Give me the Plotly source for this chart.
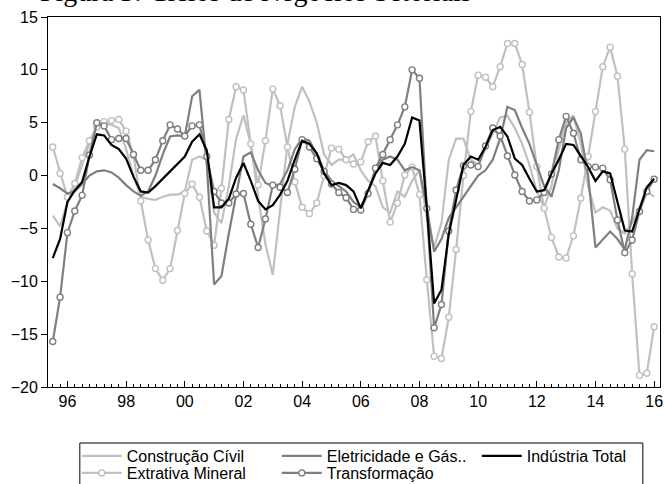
import plotly.graph_objects as go
import pandas as pd

# Quarterly observations 1995Q3 .. 2016Q1
quarters = pd.period_range("1995Q3", "2016Q1", freq="Q")
x = [p.year + (p.quarter - 1) / 4 for p in quarters]

construcao = [
    -3.8, -4.8,
    -2.5, -1.0, 1.0, 3.0,
    4.5, 5.0, 4.8, 4.5,
    2.5, 0.0, -2.0, -2.2,
    -2.3, -2.0, -1.8, -1.8,
    -1.5, 1.5, 1.8, 1.5,
    -3.5, -4.5, -1.0, 3.5,
    5.7, 3.0, -2.0, -6.5,
    -9.4, -3.5, 3.0, 6.5,
    8.4, 7.0, 5.0, 2.0,
    1.0, 1.5, 1.5, 2.0,
    0.5, -0.5, -1.0, -3.0,
    -3.5, -1.5, -2.0, -0.5,
    0.5, -4.0, -6.8, -4.5,
    1.5, 3.5, 3.5, 1.5,
    1.0, 2.5, 4.0, 5.5,
    5.65, 4.5, 3.0, 1.0,
    -1.5, -3.0, -1.0, 2.5,
    5.0, 5.7, 3.0, -1.0,
    -3.5, -3.0, -3.3, -5.0,
    -5.5, -4.5, -3.0, -1.5,
    -2.0,
]

extrativa = [
    2.7, 0.2,
    -2.05, -0.75, 1.7, 3.3,
    4.6, 5.1, 5.2, 5.3,
    4.2, 1.9, -2.4, -6.1,
    -8.8, -9.9, -8.8, -5.2,
    -1.7, -0.8, -2.05, -5.25,
    -6.6, -1.2, 5.3, 8.4,
    8.1, 3.0, -0.9, 3.3,
    8.2, 6.6, 2.7, -0.6,
    -3.0, -3.6, -2.6, 0.0,
    2.6, 2.5, 1.5, 1.1,
    1.3, 3.2, 3.75, -0.5,
    -4.4, -2.6, 0.06, 0.8,
    -1.8, -9.85, -17.1, -17.3,
    -13.4, -7.0, 0.0, 6.05,
    9.5, 9.3, 8.4, 10.3,
    12.5, 12.5, 10.5, 6.0,
    0.85, -3.1, -5.85, -7.7,
    -7.8, -5.7, -2.15, 1.8,
    6.05, 10.3, 12.15, 9.4,
    2.5, -9.3, -18.9, -18.7,
    -14.3,
]

eletricidade = [
    -0.8, -1.2,
    -1.7, -1.5, -0.8, 0.0,
    0.4, 0.5, 0.3, -0.2,
    -0.9, -1.5, -1.9, -1.5,
    0.0, 2.0, 3.7, 3.8,
    3.7, 7.5, 8.1, 1.0,
    -10.3, -9.5, -5.5, -2.0,
    1.8, 2.2, 0.5, -0.7,
    -1.0, -0.8, 0.5, 2.5,
    3.5, 3.3, 2.0, 0.5,
    -0.5, -1.0, -1.5, -2.5,
    -3.0, -1.5, 0.5, 1.5,
    1.8, 1.5, 0.5, 0.8,
    0.5, -3.0, -7.2, -6.0,
    -4.0, -3.0, -2.0, -1.0,
    0.0, 0.5, 1.5, 3.5,
    6.5, 6.2, 4.5, 3.0,
    1.0, -1.0, -2.0, 0.5,
    4.5, 5.5, 4.0, 0.0,
    -6.8, -6.0, -5.3, -6.0,
    -7.0, -4.0, 1.5, 2.4,
    2.3,
]

transformacao = [
    -15.7, -11.5,
    -5.4, -3.35, -1.87, 1.95,
    5.0, 4.7, 3.4, 3.5,
    3.5, 2.0, 0.5, 0.5,
    1.5, 3.3, 4.8, 4.4,
    3.75, 4.7, 4.8, 1.8,
    -1.5, -2.6, -2.6, -1.75,
    -1.7, -4.6, -6.8, -4.1,
    -0.9, -1.1, -1.6, 0.6,
    3.4, 2.7, 1.6, 0.4,
    -0.8, -1.6, -2.1, -3.2,
    -3.25, -1.7, 0.7, 2.0,
    3.4, 4.8, 6.5, 10.0,
    9.2, -3.1, -14.4, -12.2,
    -5.25, -1.36, 0.94, 1.0,
    0.85, 2.8, 4.5, 3.75,
    1.85, 0.06, -1.5, -2.4,
    -2.3, -1.6, 0.15, 3.4,
    5.6, 4.0, 1.5, 0.85,
    0.8, 0.7, -0.4, -4.2,
    -7.3, -6.1, -3.4, -1.5,
    -0.35,
]

industria = [
    -7.8, -6.0,
    -2.5, -1.4, -0.6, 1.8,
    3.9, 3.8, 2.9, 2.5,
    1.6, -0.1, -1.5, -1.6,
    -1.0, -0.3, 0.5, 1.2,
    1.8, 3.2, 3.9, 2.4,
    -3.0, -3.0, -2.2, -0.2,
    1.2, -0.5, -2.4, -3.2,
    -2.8, -1.8, -0.5, 1.5,
    3.3, 3.0, 2.1, 0.2,
    -0.9, -0.7, -0.9, -1.5,
    -3.1, -1.4, 0.2, 1.2,
    1.0, 1.8, 3.0, 5.5,
    5.2, -3.0, -12.1, -10.8,
    -5.5, -2.3, 1.0, 1.8,
    1.5, 2.7, 4.3, 4.6,
    3.7, 1.6, 1.0, -0.3,
    -1.5, -1.4, 0.2, 1.5,
    3.0, 2.9, 1.8, 0.8,
    -0.5, 0.4, 0.2, -2.5,
    -5.2, -5.3, -3.3, -1.1,
    -0.3,
]

tick_years = [1996, 1998, 2000, 2002, 2004, 2006, 2008, 2010, 2012, 2014, 2016]
tick_labels = ["96", "98", "00", "02", "04", "06", "08", "10", "12", "14", "16"]
y_ticks = [15, 10, 5, 0, -5, -10, -15, -20]

LIGHT = "#c0c0c0"
MID = "#7f7f7f"
FONT = "Liberation Sans, Arial, sans-serif"

fig = go.Figure()

fig.add_trace(go.Scatter(x=x, y=construcao, name="Construção Cívil", mode="lines",
                         line=dict(color=LIGHT, width=2.2), legend="legend", legendrank=1))
fig.add_trace(go.Scatter(x=x, y=extrativa, name="Extrativa Mineral", mode="lines+markers",
                         line=dict(color=LIGHT, width=2.2),
                         marker=dict(symbol="circle", size=6, color="white",
                                     line=dict(color=LIGHT, width=1.4)),
                         legend="legend2", legendrank=1))
fig.add_trace(go.Scatter(x=x, y=eletricidade, name="Eletricidade e Gás..", mode="lines",
                         line=dict(color=MID, width=2.2), legend="legend", legendrank=2))
fig.add_trace(go.Scatter(x=x, y=transformacao, name="Transformação", mode="lines+markers",
                         line=dict(color=MID, width=2.2),
                         marker=dict(symbol="circle", size=6, color="white",
                                     line=dict(color=MID, width=1.4)),
                         legend="legend2", legendrank=2))
fig.add_trace(go.Scatter(x=x, y=industria, name="Indústria Total", mode="lines",
                         line=dict(color="black", width=2.2), legend="legend", legendrank=3))

legend_common = dict(orientation="h", xanchor="left", yanchor="middle",
                     bgcolor="rgba(0,0,0,0)", borderwidth=0,
                     font=dict(size=16, family=FONT), itemwidth=40,
                     entrywidth=145, traceorder="normal")

fig.update_layout(
    width=664, height=484,
    margin=dict(l=48, r=4, t=17, b=97, autoexpand=False),
    paper_bgcolor="white", plot_bgcolor="white",
    font=dict(family=FONT, size=16, color="black"),
    showlegend=True,
    legend=dict(x=0.047, y=-0.1865, **legend_common),
    legend2=dict(x=0.047, y=-0.2324, **legend_common),
    shapes=[dict(type="rect", xref="paper", yref="paper", x0=0.052, x1=0.972,
                 y0=-0.1514, y1=-0.35, line=dict(color="black", width=1),
                 fillcolor="rgba(0,0,0,0)", layer="below")],
    annotations=[dict(text="Figura 3: Ciclos de Negócios Setoriais", xref="paper", yref="paper",
                      x=-0.016, y=1.0216, xanchor="left", yanchor="bottom", showarrow=False,
                      font=dict(family="Liberation Serif, Times New Roman, serif", size=28,
                                color="black"))],
)

fig.update_xaxes(range=[1995.337, 2016.2], tickvals=tick_years, ticktext=tick_labels,
                 ticks="inside", ticklen=6, tickcolor="black", showgrid=False, zeroline=False,
                 showline=True, linecolor="black", linewidth=1, mirror=True,
                 ticklabeloverflow="allow",
                 minor=dict(dtick=0.25, tick0=1996, ticks="inside", ticklen=3, tickcolor="black"),
                 tickfont=dict(size=16, family=FONT))
fig.update_yaxes(range=[-20, 15], tickvals=y_ticks, ticks="outside", ticklen=6, tickcolor="black",
                 showgrid=False, zeroline=False, showline=True, linecolor="black", linewidth=1,
                 mirror=True, tickfont=dict(size=16, family=FONT))

fig.write_html("out.html")
